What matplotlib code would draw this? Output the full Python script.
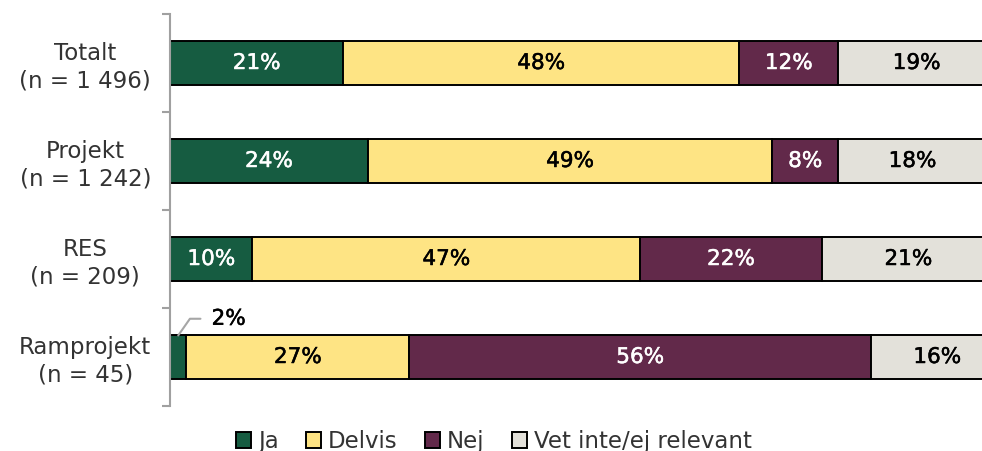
import matplotlib
matplotlib.use("Agg")
from matplotlib import pyplot as plt
import matplotlib.ticker as tck
import matplotlib.patheffects as pe
import numpy as np

plt.rcParams['font.family'] = ['DejaVu Sans']

# data
groups  = ['Totalt\n(n = 1 496)', 'Projekt\n(n = 1 242)', 'RES\n(n = 209)', 'Ramprojekt\n(n = 45)']
answers = ['Ja', 'Delvis', 'Nej', 'Vet inte/ej relevant']
ja      = [21, 24, 10, 2]
delvis  = [48, 49, 47, 27]
nej     = [12, 8, 22, 56]
vet     = [19, 18, 21, 16]

colors      = ['#165c41', '#fee484', '#62294a', '#e3e1da']
text_colors = ['white', 'black', 'white', 'black']

fig = plt.figure(figsize=(9.82, 4.51), dpi=100)
ax = fig.add_axes([0.1731, 0.0998, 0.8401, 0.8692])

series = [ja, delvis, nej, vet]
y = np.arange(len(groups))
left = np.zeros(len(groups))
for k, vals in enumerate(series):
    vals = np.array(vals)
    ax.barh(y, vals, left=left, height=0.44, color=colors[k],
            edgecolor='black', linewidth=1.4, label=answers[k])
    for i, v in enumerate(vals):
        if v >= 5:
            ax.text(left[i] + v / 2, y[i], f'{v}%', ha='center', va='center',
                    color=text_colors[k], fontsize=15.5,
                    path_effects=[pe.withStroke(linewidth=0.35, foreground=text_colors[k])])
    left += vals

# small value label with leader line
ax.annotate(f'{ja[3]}%', xy=(ja[3] / 2, y[3] - 0.22), xytext=(24, 12),
            textcoords='offset points', ha='left', va='center', fontsize=15.5,
            path_effects=[pe.withStroke(linewidth=0.35, foreground='black')],
            arrowprops=dict(arrowstyle='-', color='#a6a6a6', lw=1.5,
                            shrinkA=6, shrinkB=0, relpos=(0, 0.5),
                            connectionstyle='angle,angleA=0,angleB=55,rad=0'))

ax.set_xlim(0, 100)
ax.set_ylim(len(groups) - 0.5, -0.5)
ax.xaxis.set_visible(False)
for s in ['top', 'right', 'bottom']:
    ax.spines[s].set_visible(False)
ax.spines['left'].set_color('#a0a0a0')
ax.spines['left'].set_linewidth(1.5)

ax.set_yticks(y)
ax.set_yticklabels(groups, fontsize=16.5, color='#333333', ha='center',
                   multialignment='center', linespacing=1.2)
ax.tick_params(axis='y', which='major', length=0, pad=61)
ax.yaxis.set_minor_locator(tck.FixedLocator(np.arange(-0.5, len(groups), 1)))
ax.tick_params(axis='y', which='minor', length=6, width=1.5, color='#a0a0a0')

fig.legend(loc='lower center', bbox_to_anchor=(0.503, -0.05), ncol=4,
           frameon=False, fontsize=16.5, handlelength=0.65, handleheight=0.65,
           handletextpad=0.3, columnspacing=1.2,
           labelcolor='#333333')

fig.savefig('out.png', dpi=100)
